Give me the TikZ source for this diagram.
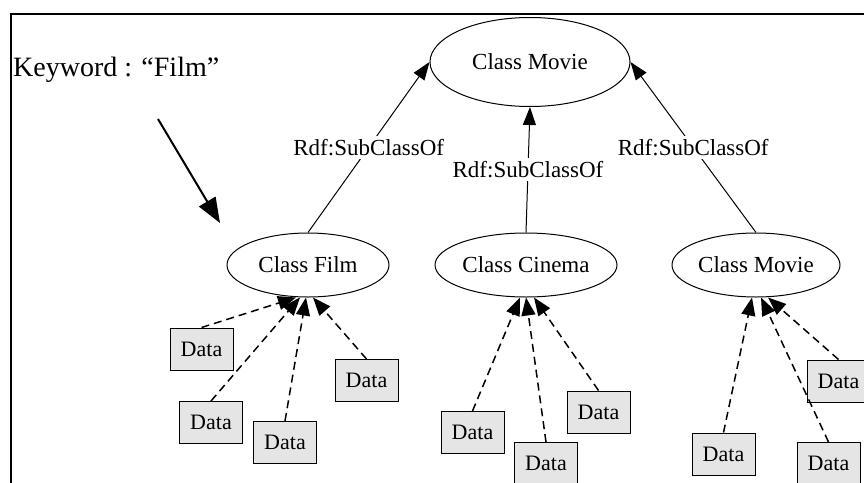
\documentclass[tikz,border=0pt]{standalone}
\usepackage{fontspec}
\setmainfont{Liberation Serif}
\usetikzlibrary{arrows.meta,shapes.geometric}
\begin{document}
\begin{tikzpicture}[x=1pt,y=-1pt,
  cls/.style={ellipse,draw,line width=1pt,inner sep=0pt,font=\fontsize{23}{27}\selectfont},
  databox/.style={draw,line width=1pt,fill=gray!20,minimum width=63pt,minimum height=42pt,inner sep=0pt,font=\fontsize{22}{26}\selectfont},
  sub/.style={line width=1pt,-{Triangle[length=18pt,width=13pt]}},
  inst/.style={line width=1.5pt,dash pattern=on 8pt off 5pt,-{Triangle[length=18pt,width=14pt]}},
  lbl/.style={fill=white,inner sep=3pt,font=\fontsize{23}{27}\selectfont},
  kw/.style={inner sep=0pt,font=\fontsize{28}{32}\selectfont},
]
\useasboundingbox (0,0) rectangle (864,482);
% frame
\draw[line width=2pt] (11,490) -- (11,14) -- (880,14);

% keyword
\node[kw,anchor=base west] (kwd) at (13,76) {Keyword : “Film”};
\coordinate (kwA) at (158,119);
\coordinate (kwB) at (220,223);
\draw[line width=2pt,-{Triangle[length=25pt,width=19pt]}] (kwA) -- (kwB);

% classes
\node[cls,minimum width=200pt,minimum height=89pt] (top) at (530,62) {Class Movie};
\node[cls,minimum width=162pt,minimum height=64pt] (film) at (308,265) {Class Film};
\node[cls,minimum width=182pt,minimum height=64pt] (cinema) at (526,265) {Class Cinema};
\node[cls,minimum width=168pt,minimum height=64pt] (movie) at (756,265) {Class Movie};

% subclass edges
\draw[sub] (film.north) -- node[lbl] {Rdf:SubClassOf} (top.west);
\draw[sub] (cinema.north) -- node[lbl] {Rdf:SubClassOf} (top.south);
\draw[sub] (movie.north) -- node[lbl] {Rdf:SubClassOf} (top.east);

% data boxes - film
\node[databox] (f1) at (201.5,349) {Data};
\node[databox] (f2) at (211,422.5) {Data};
\node[databox] (f3) at (285,442.5) {Data};
\node[databox] (f4) at (366.5,380.5) {Data};
% cinema
\node[databox] (c1) at (472.5,432.5) {Data};
\node[databox] (c2) at (546,463.5) {Data};
\node[databox] (c3) at (598.5,412) {Data};
% movie
\node[databox] (m1) at (723.5,454) {Data};
\node[databox] (m2) at (828.5,463.5) {Data};
\node[databox] (m3) at (838.5,381) {Data};

% instance edges
\draw[inst] (f1.north) -- ([xshift=-12pt]film.south);
\draw[inst] (f2.north) -- ([xshift=-8pt]film.south);
\draw[inst] (f3.north) -- ([xshift=-2pt]film.south);
\draw[inst] (f4.north) -- ([xshift=5pt]film.south);

\draw[inst] (c1.north) -- ([xshift=-6pt]cinema.south);
\draw[inst] (c2.north) -- ([xshift=0pt]cinema.south);
\draw[inst] (c3.north) -- ([xshift=8pt]cinema.south);

\draw[inst] (m1.north) -- ([xshift=-4pt]movie.south);
\draw[inst] (m2.north) -- ([xshift=5pt]movie.south);
\draw[inst] (m3.north) -- ([xshift=12pt]movie.south);
\end{tikzpicture}
\end{document}
